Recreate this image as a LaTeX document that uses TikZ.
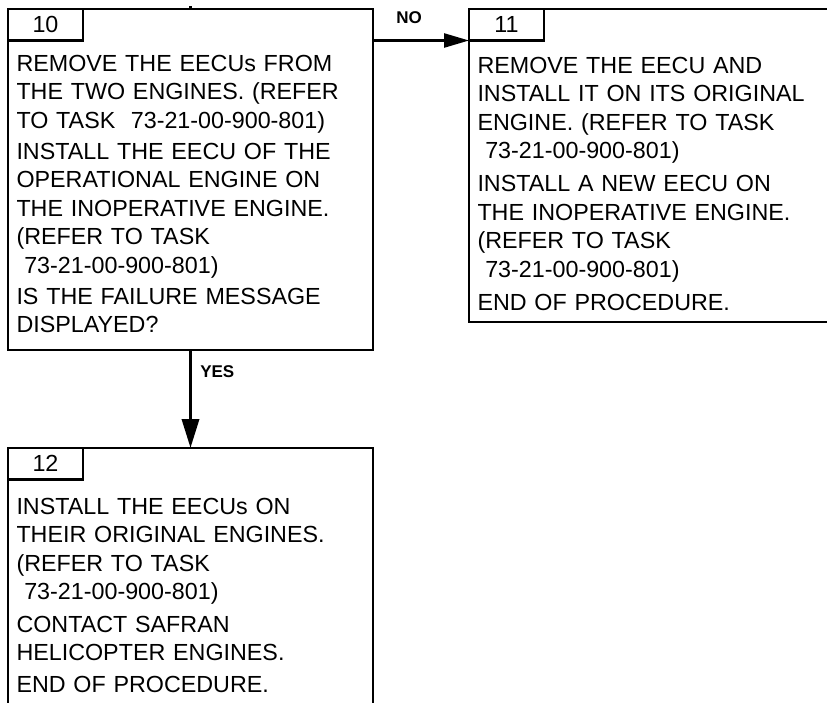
\documentclass[tikz,border=0pt]{standalone}
\usepackage{fontspec}
\setmainfont{Liberation Sans}
\usetikzlibrary{arrows.meta}
\newcommand{\tsk}{\mbox{}\ 73-21-00-900-801)}
\tikzset{
  kasten/.style={draw,line width=2.4pt,outer sep=0pt,inner sep=0pt,anchor=north west},
  nummer/.style={draw,line width=2.2pt,outer sep=0pt,inner sep=0pt,minimum width=75pt,minimum height=31.5pt,anchor=north west,font=\fontsize{23.3}{28}\selectfont},
  inhalt/.style={inner sep=0pt,outer sep=0pt,anchor=north west,align=left,text width=345pt,font=\fontsize{23.3}{28.4}\selectfont},
  marke/.style={inner sep=0pt,font=\fontsize{17}{20}\selectfont\bfseries},
  pfeil/.style={-{Triangle[length=25pt,width=14pt]},line width=2.5pt},
}
\begin{document}
\begin{tikzpicture}[x=1pt,y=-1pt]
  \clip (0,0) rectangle (827,702);
  % boxes
  \node[kasten,minimum width=365pt,minimum height=341pt] (b10) at (8,9) {};
  \node[kasten,minimum width=372pt,minimum height=313pt] (b11) at (469,9) {};
  \node[kasten,minimum width=365pt,minimum height=280pt] (b12) at (8,448) {};
  \node[nummer] (n10) at (b10.north west) {10};
  \node[nummer] (n11) at (b11.north west) {11};
  \node[nummer] (n12) at (b12.north west) {12};
  % texts
  \node[inhalt] (t10) at (16.5,55) {REMOVE THE EECUs FROM\\
    THE TWO ENGINES. (REFER\\
    TO TASK\ \ 73-21-00-900-801)\\[3pt]
    INSTALL THE EECU OF THE\\
    OPERATIONAL ENGINE ON\\
    THE INOPERATIVE ENGINE.\\
    (REFER TO TASK\\
    \tsk\\[3pt]
    IS THE FAILURE MESSAGE\\
    DISPLAYED?};
  \node[inhalt] (t11) at (477.5,57) {REMOVE THE EECU AND\\
    INSTALL IT ON ITS ORIGINAL\\
    ENGINE. (REFER TO TASK\\
    \tsk\\[5pt]
    INSTALL A NEW EECU ON\\
    THE INOPERATIVE ENGINE.\\
    (REFER TO TASK\\
    \tsk\\[5pt]
    END OF PROCEDURE.};
  \node[inhalt] (t12) at (16.5,498.2) {INSTALL THE EECUs ON\\
    THEIR ORIGINAL ENGINES.\\
    (REFER TO TASK\\
    \tsk\\[4pt]
    CONTACT SAFRAN\\
    HELICOPTER ENGINES.\\[4pt]
    END OF PROCEDURE.};
  % connectors
  \coordinate (oben) at (190.5,6);
  \draw[line width=3.5pt] (oben) -- (b10.north);
  \draw[pfeil] (b10.east |- n11.south west) -- (n11.south west)
    node[marke,pos=0.375,above=15.4pt] (nein) {NO};
  \draw[pfeil,line width=3.5pt,-{Triangle[length=29pt,width=17pt]}] (b10.south) -- (b12.north)
    node[marke,pos=0.224,right=8pt] (ja) {YES};
\end{tikzpicture}
\end{document}
